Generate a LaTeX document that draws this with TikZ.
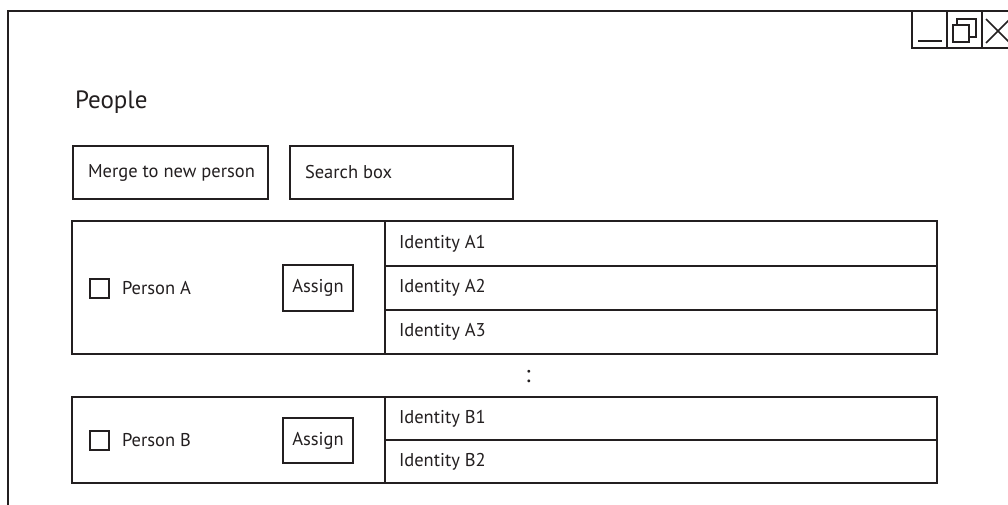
\documentclass[tikz,border=0pt]{standalone}
\usepackage{fontspec}
\setmainfont{PT Sans}
\definecolor{ink}{HTML}{231F20}
\begin{document}
\begin{tikzpicture}[x=1pt,y=-1pt,
  line width=2pt,
  frame/.style={draw=ink,line width=2pt},
  cell/.style={draw=ink,line width=2pt,anchor=north west,inner sep=0pt,outer sep=0pt},
  lbl/.style={font=\fontsize{18.5}{22}\selectfont,text=ink,inner sep=0pt,anchor=west},
  btn/.style={font=\fontsize{18.5}{22}\selectfont,text=ink,inner sep=0pt}]
\useasboundingbox (0,0) rectangle (1008,504);
\fill[white] (0,0) rectangle (1008,504);
% window
\coordinate (wbl) at (8,505);
\coordinate (wtl) at (8,11);
\coordinate (wtr) at (1010,11);
\draw[frame] (wbl) -- (wtl) -- (wtr);
% window buttons
\node[cell,minimum width=35pt,minimum height=37pt] (bmin) at (912,11) {};
\node[cell,minimum width=35pt,minimum height=37pt] (bmax) at (947,11) {};
\node[cell,minimum width=35pt,minimum height=37pt] (bclose) at (982,11) {};
\draw[ink,line width=2pt] (918,41) -- (942,41);
\draw[ink,line width=1.8pt] (957,19) rectangle (976,37);
\filldraw[fill=white,draw=ink,line width=1.8pt] (953,25) rectangle (969,42);
\draw[ink,line width=1.6pt] (986,19) -- (1010,43) (986,43) -- (1010,19);
% title
\node[lbl,font=\fontsize{25}{30}\selectfont] (title) at (74,102) {People};
% toolbar
\node[cell,minimum width=195pt,minimum height=53pt] (merge) at (73,146) {};
\node[btn] at ([xshift=1pt]merge.center) {Merge to new person};
\node[cell,minimum width=223pt,minimum height=53pt] (search) at (290,146) {};
\node[lbl] at ([xshift=14pt]search.west) {Search box};
% person A
\node[cell,minimum width=313pt,minimum height=133pt] (pa) at (72,221) {};
\node[cell,minimum width=552pt,minimum height=45pt] (a1) at (385,221) {};
\node[cell,minimum width=552pt,minimum height=44pt] (a2) at (385,266) {};
\node[cell,minimum width=552pt,minimum height=44pt] (a3) at (385,310) {};
\node[lbl] at ([xshift=13pt]a1.west) {Identity A1};
\node[lbl] at ([xshift=13pt]a2.west) {Identity A2};
\node[lbl] at ([xshift=13pt]a3.west) {Identity A3};
\node[cell,minimum width=19pt,minimum height=19pt] (cka) at (90,279) {};
\node[lbl] (pat) at (121,288) {Person A};
\node[cell,minimum width=70pt,minimum height=46pt] (asa) at (283,265) {};
\node[btn] at (asa.center) {Assign};
% dots
\node[btn,font=\fontsize{24}{28}\selectfont] (dots) at (528,377) {:};
% person B
\node[cell,minimum width=313pt,minimum height=86pt] (pb) at (72,397) {};
\node[cell,minimum width=552pt,minimum height=43pt] (b1) at (385,397) {};
\node[cell,minimum width=552pt,minimum height=43pt] (b2) at (385,440) {};
\node[lbl] at ([xshift=13pt]b1.west) {Identity B1};
\node[lbl] at ([xshift=13pt]b2.west) {Identity B2};
\node[cell,minimum width=19pt,minimum height=19pt] (ckb) at (90,431) {};
\node[lbl] (pbt) at (121,440) {Person B};
\node[cell,minimum width=70pt,minimum height=45pt] (asb) at (283,418) {};
\node[btn] at (asb.center) {Assign};
\end{tikzpicture}
\end{document}
